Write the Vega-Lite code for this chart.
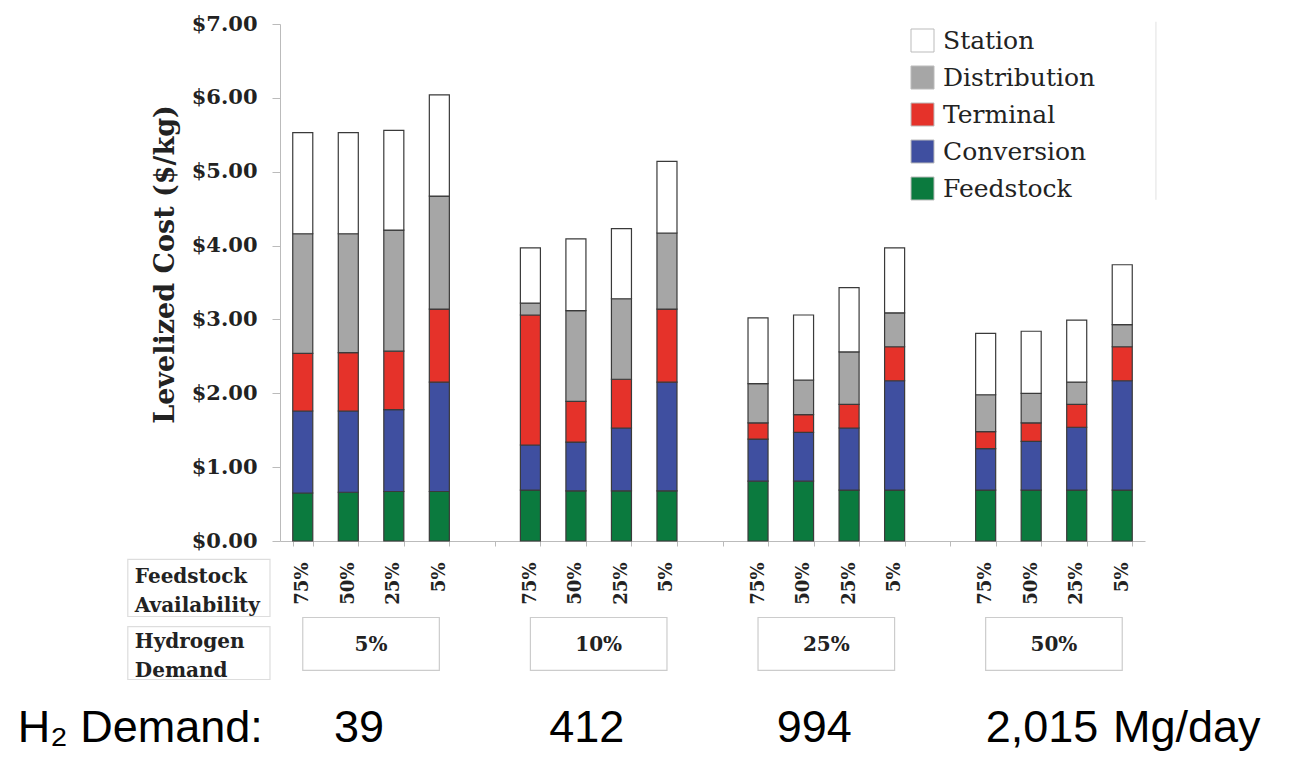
{
  "$schema": "https://vega.github.io/schema/vega-lite/v6.json",
  "autosize": {"type": "none"},
  "padding": {"left": 280, "top": 24, "right": 149, "bottom": 216},
  "width": 865,
  "height": 517,
  "background": "white",
  "config": {"view": {"stroke": null}},
  "datasets": {
    "components": [
      {"component": "Feedstock", "level": 1},
      {"component": "Conversion", "level": 2},
      {"component": "Terminal", "level": 3},
      {"component": "Distribution", "level": 4},
      {"component": "Station", "level": 5}
    ]
  },
  "resolve": {"scale": {"x": "independent"}},
  "layer": [
    {
      "data": {"values": [
        {"bar": "5%|75%", "demand": "5%", "feedstock": "75%", "Feedstock": 0.65, "Conversion": 1.11, "Terminal": 0.78, "Distribution": 1.62, "Station": 1.37},
        {"bar": "5%|50%", "demand": "5%", "feedstock": "50%", "Feedstock": 0.66, "Conversion": 1.10, "Terminal": 0.79, "Distribution": 1.61, "Station": 1.37},
        {"bar": "5%|25%", "demand": "5%", "feedstock": "25%", "Feedstock": 0.67, "Conversion": 1.11, "Terminal": 0.79, "Distribution": 1.64, "Station": 1.35},
        {"bar": "5%|5%", "demand": "5%", "feedstock": "5%", "Feedstock": 0.67, "Conversion": 1.48, "Terminal": 0.99, "Distribution": 1.53, "Station": 1.37},
        {"bar": "10%|75%", "demand": "10%", "feedstock": "75%", "Feedstock": 0.69, "Conversion": 0.61, "Terminal": 1.76, "Distribution": 0.16, "Station": 0.75},
        {"bar": "10%|50%", "demand": "10%", "feedstock": "50%", "Feedstock": 0.68, "Conversion": 0.66, "Terminal": 0.55, "Distribution": 1.23, "Station": 0.97},
        {"bar": "10%|25%", "demand": "10%", "feedstock": "25%", "Feedstock": 0.68, "Conversion": 0.85, "Terminal": 0.66, "Distribution": 1.09, "Station": 0.95},
        {"bar": "10%|5%", "demand": "10%", "feedstock": "5%", "Feedstock": 0.68, "Conversion": 1.47, "Terminal": 0.99, "Distribution": 1.03, "Station": 0.97},
        {"bar": "25%|75%", "demand": "25%", "feedstock": "75%", "Feedstock": 0.81, "Conversion": 0.57, "Terminal": 0.22, "Distribution": 0.53, "Station": 0.89},
        {"bar": "25%|50%", "demand": "25%", "feedstock": "50%", "Feedstock": 0.81, "Conversion": 0.66, "Terminal": 0.24, "Distribution": 0.47, "Station": 0.88},
        {"bar": "25%|25%", "demand": "25%", "feedstock": "25%", "Feedstock": 0.69, "Conversion": 0.84, "Terminal": 0.32, "Distribution": 0.71, "Station": 0.87},
        {"bar": "25%|5%", "demand": "25%", "feedstock": "5%", "Feedstock": 0.69, "Conversion": 1.48, "Terminal": 0.46, "Distribution": 0.46, "Station": 0.88},
        {"bar": "50%|75%", "demand": "50%", "feedstock": "75%", "Feedstock": 0.69, "Conversion": 0.56, "Terminal": 0.23, "Distribution": 0.50, "Station": 0.83},
        {"bar": "50%|50%", "demand": "50%", "feedstock": "50%", "Feedstock": 0.69, "Conversion": 0.66, "Terminal": 0.25, "Distribution": 0.40, "Station": 0.84},
        {"bar": "50%|25%", "demand": "50%", "feedstock": "25%", "Feedstock": 0.69, "Conversion": 0.85, "Terminal": 0.31, "Distribution": 0.30, "Station": 0.84},
        {"bar": "50%|5%", "demand": "50%", "feedstock": "5%", "Feedstock": 0.69, "Conversion": 1.48, "Terminal": 0.46, "Distribution": 0.30, "Station": 0.81}
      ]},
      "transform": [
        {"fold": ["Feedstock", "Conversion", "Terminal", "Distribution", "Station"], "as": ["component", "cost"]},
        {"lookup": "component", "from": {"data": {"name": "components"}, "key": "component", "fields": ["level"]}}
      ],
      "mark": {"type": "bar", "stroke": "#3a3a3a", "strokeWidth": 1.2},
      "encoding": {
        "x": {
          "field": "bar", "type": "nominal",
          "scale": {
            "domain": ["5%|75%", "5%|50%", "5%|25%", "5%|5%", "g1", "10%|75%", "10%|50%", "10%|25%", "10%|5%", "g2", "25%|75%", "25%|50%", "25%|25%", "25%|5%", "g3", "50%|75%", "50%|50%", "50%|25%", "50%|5%"],
            "paddingInner": 0.56, "paddingOuter": 0.28
          },
          "axis": {
            "title": null,
            "labelExpr": "replace(datum.value + '', /^[^|]*[|]?/, '')",
            "labelAngle": -90, "labelAlign": "right", "labelBaseline": "middle",
            "labelFont": "DejaVu Serif", "labelFontWeight": "bold", "labelFontSize": 18, "labelColor": "#222222",
            "labelPadding": 16, "labelOverlap": false,
            "tickBand": "extent", "tickSize": 5, "tickColor": "#bbbbbb", "domainColor": "#bbbbbb"
          }
        },
        "y": {
          "field": "cost", "type": "quantitative", "stack": "zero",
          "scale": {"domain": [0, 7], "nice": false},
          "axis": {
            "title": "Levelized Cost ($/kg)", "titleFont": "DejaVu Serif", "titleFontSize": 27, "titleFontWeight": "bold",
            "titleColor": "#222222", "titlePadding": 12, "titleY": 240,
            "labelFont": "DejaVu Serif", "labelFontWeight": "bold", "labelFontSize": 21, "labelColor": "#222222",
            "labelExpr": "'$' + format(datum.value, '.2f')", "values": [0, 1, 2, 3, 4, 5, 6, 7],
            "tickSize": 8, "tickColor": "#bbbbbb", "domainColor": "#bbbbbb", "labelPadding": 15, "grid": false
          }
        },
        "order": {"field": "level", "type": "quantitative"},
        "color": {
          "field": "component", "type": "nominal",
          "scale": {
            "domain": ["Station", "Distribution", "Terminal", "Conversion", "Feedstock"],
            "range": ["#ffffff", "#a6a6a6", "#e5322a", "#3f4fa0", "#0b7a3e"]
          },
          "legend": {
            "orient": "none", "legendX": 630, "legendY": 4, "title": null,
            "symbolType": "square", "symbolSize": 529, "symbolStrokeColor": "#bbbbbb", "symbolStrokeWidth": 1,
            "labelFont": "DejaVu Serif", "labelFontSize": 25, "labelColor": "#222222",
            "rowPadding": 10, "labelOffset": 8
          }
        }
      }
    },
    {
      "data": {"values": [
        {"demand": "5%", "h2": "39"},
        {"demand": "10%", "h2": "412"},
        {"demand": "25%", "h2": "994"},
        {"demand": "50%", "h2": "2,015"}
      ]},
      "encoding": {
        "x": {"field": "demand", "type": "nominal", "scale": {"domain": ["5%", "10%", "25%", "50%"], "paddingInner": 0.2, "paddingOuter": 0}, "axis": null}
      },
      "layer": [
        {
          "mark": {"type": "bar", "filled": false, "stroke": "#cccccc", "strokeWidth": 1.2, "width": {"band": 0.75}},
          "encoding": {
            "y": {"datum": -1.036, "type": "quantitative", "scale": {"domain": [0, 7], "nice": false}},
            "y2": {"datum": -1.753}
          }
        },
        {
          "mark": {"type": "text", "font": "DejaVu Serif", "fontWeight": "bold", "fontSize": 20, "baseline": "alphabetic", "color": "#222222"},
          "encoding": {
            "y": {"datum": -1.496, "type": "quantitative", "scale": {"domain": [0, 7], "nice": false}},
            "text": {"field": "demand"}
          }
        },
        {
          "mark": {"type": "text", "font": "Liberation Sans", "fontSize": 45, "baseline": "alphabetic", "dx": -12, "color": "#000000"},
          "encoding": {
            "y": {"datum": -2.728, "type": "quantitative", "scale": {"domain": [0, 7], "nice": false}},
            "text": {"field": "h2"}
          }
        },
        {
          "transform": [{"filter": "datum.demand === '50%'"}],
          "mark": {"type": "text", "font": "Liberation Sans", "fontSize": 45, "baseline": "alphabetic", "align": "left", "dx": 59, "color": "#000000"},
          "encoding": {
            "y": {"datum": -2.728, "type": "quantitative", "scale": {"domain": [0, 7], "nice": false}},
            "text": {"value": "Mg/day"}
          }
        }
      ]
    },
    {
      "data": {"values": [{"row": "labels"}]},
      "layer": [
        {
          "mark": {"type": "rect", "filled": false, "stroke": "#dddddd", "strokeWidth": 1.2},
          "encoding": {
            "x": {"datum": -3.343, "type": "quantitative", "scale": {"domain": [0, 19], "nice": false, "zero": false}, "axis": null},
            "x2": {"datum": -0.22},
            "y": {"datum": -0.25, "type": "quantitative", "scale": {"domain": [0, 7], "nice": false}},
            "y2": {"datum": -1.022}
          }
        },
        {
          "mark": {"type": "rect", "filled": false, "stroke": "#dddddd", "strokeWidth": 1.2},
          "encoding": {
            "x": {"datum": -3.343, "type": "quantitative", "scale": {"domain": [0, 19], "nice": false, "zero": false}, "axis": null},
            "x2": {"datum": -0.22},
            "y": {"datum": -1.158, "type": "quantitative", "scale": {"domain": [0, 7], "nice": false}},
            "y2": {"datum": -1.875}
          }
        },
        {
          "mark": {"type": "rule", "stroke": "#e6e6e6", "strokeWidth": 1.2},
          "encoding": {
            "x": {"datum": 19.24, "type": "quantitative", "scale": {"domain": [0, 19], "nice": false, "zero": false}, "axis": null},
            "y": {"datum": 7.03, "type": "quantitative", "scale": {"domain": [0, 7], "nice": false}},
            "y2": {"datum": 4.62}
          }
        },
        {
          "mark": {"type": "text", "font": "DejaVu Serif", "fontWeight": "bold", "fontSize": 20, "align": "left", "baseline": "alphabetic", "color": "#222222"},
          "encoding": {
            "x": {"datum": -3.189, "type": "quantitative", "scale": {"domain": [0, 19], "nice": false, "zero": false}, "axis": null},
            "y": {"datum": -0.562, "type": "quantitative", "scale": {"domain": [0, 7], "nice": false}},
            "text": {"value": "Feedstock"}
          }
        },
        {
          "mark": {"type": "text", "font": "DejaVu Serif", "fontWeight": "bold", "fontSize": 20, "align": "left", "baseline": "alphabetic", "color": "#222222"},
          "encoding": {
            "x": {"datum": -3.189, "type": "quantitative", "scale": {"domain": [0, 19], "nice": false, "zero": false}, "axis": null},
            "y": {"datum": -0.955, "type": "quantitative", "scale": {"domain": [0, 7], "nice": false}},
            "text": {"value": "Availability"}
          }
        },
        {
          "mark": {"type": "text", "font": "DejaVu Serif", "fontWeight": "bold", "fontSize": 20, "align": "left", "baseline": "alphabetic", "color": "#222222"},
          "encoding": {
            "x": {"datum": -3.189, "type": "quantitative", "scale": {"domain": [0, 19], "nice": false, "zero": false}, "axis": null},
            "y": {"datum": -1.442, "type": "quantitative", "scale": {"domain": [0, 7], "nice": false}},
            "text": {"value": "Hydrogen"}
          }
        },
        {
          "mark": {"type": "text", "font": "DejaVu Serif", "fontWeight": "bold", "fontSize": 20, "align": "left", "baseline": "alphabetic", "color": "#222222"},
          "encoding": {
            "x": {"datum": -3.189, "type": "quantitative", "scale": {"domain": [0, 19], "nice": false, "zero": false}, "axis": null},
            "y": {"datum": -1.835, "type": "quantitative", "scale": {"domain": [0, 7], "nice": false}},
            "text": {"value": "Demand"}
          }
        },
        {
          "mark": {"type": "text", "font": "Liberation Sans", "fontSize": 45, "align": "left", "baseline": "alphabetic", "color": "#000000"},
          "encoding": {
            "x": {"datum": -5.762, "type": "quantitative", "scale": {"domain": [0, 19], "nice": false, "zero": false}, "axis": null},
            "y": {"datum": -2.728, "type": "quantitative", "scale": {"domain": [0, 7], "nice": false}},
            "text": {"value": "H₂ Demand:"}
          }
        }
      ]
    }
  ]
}
